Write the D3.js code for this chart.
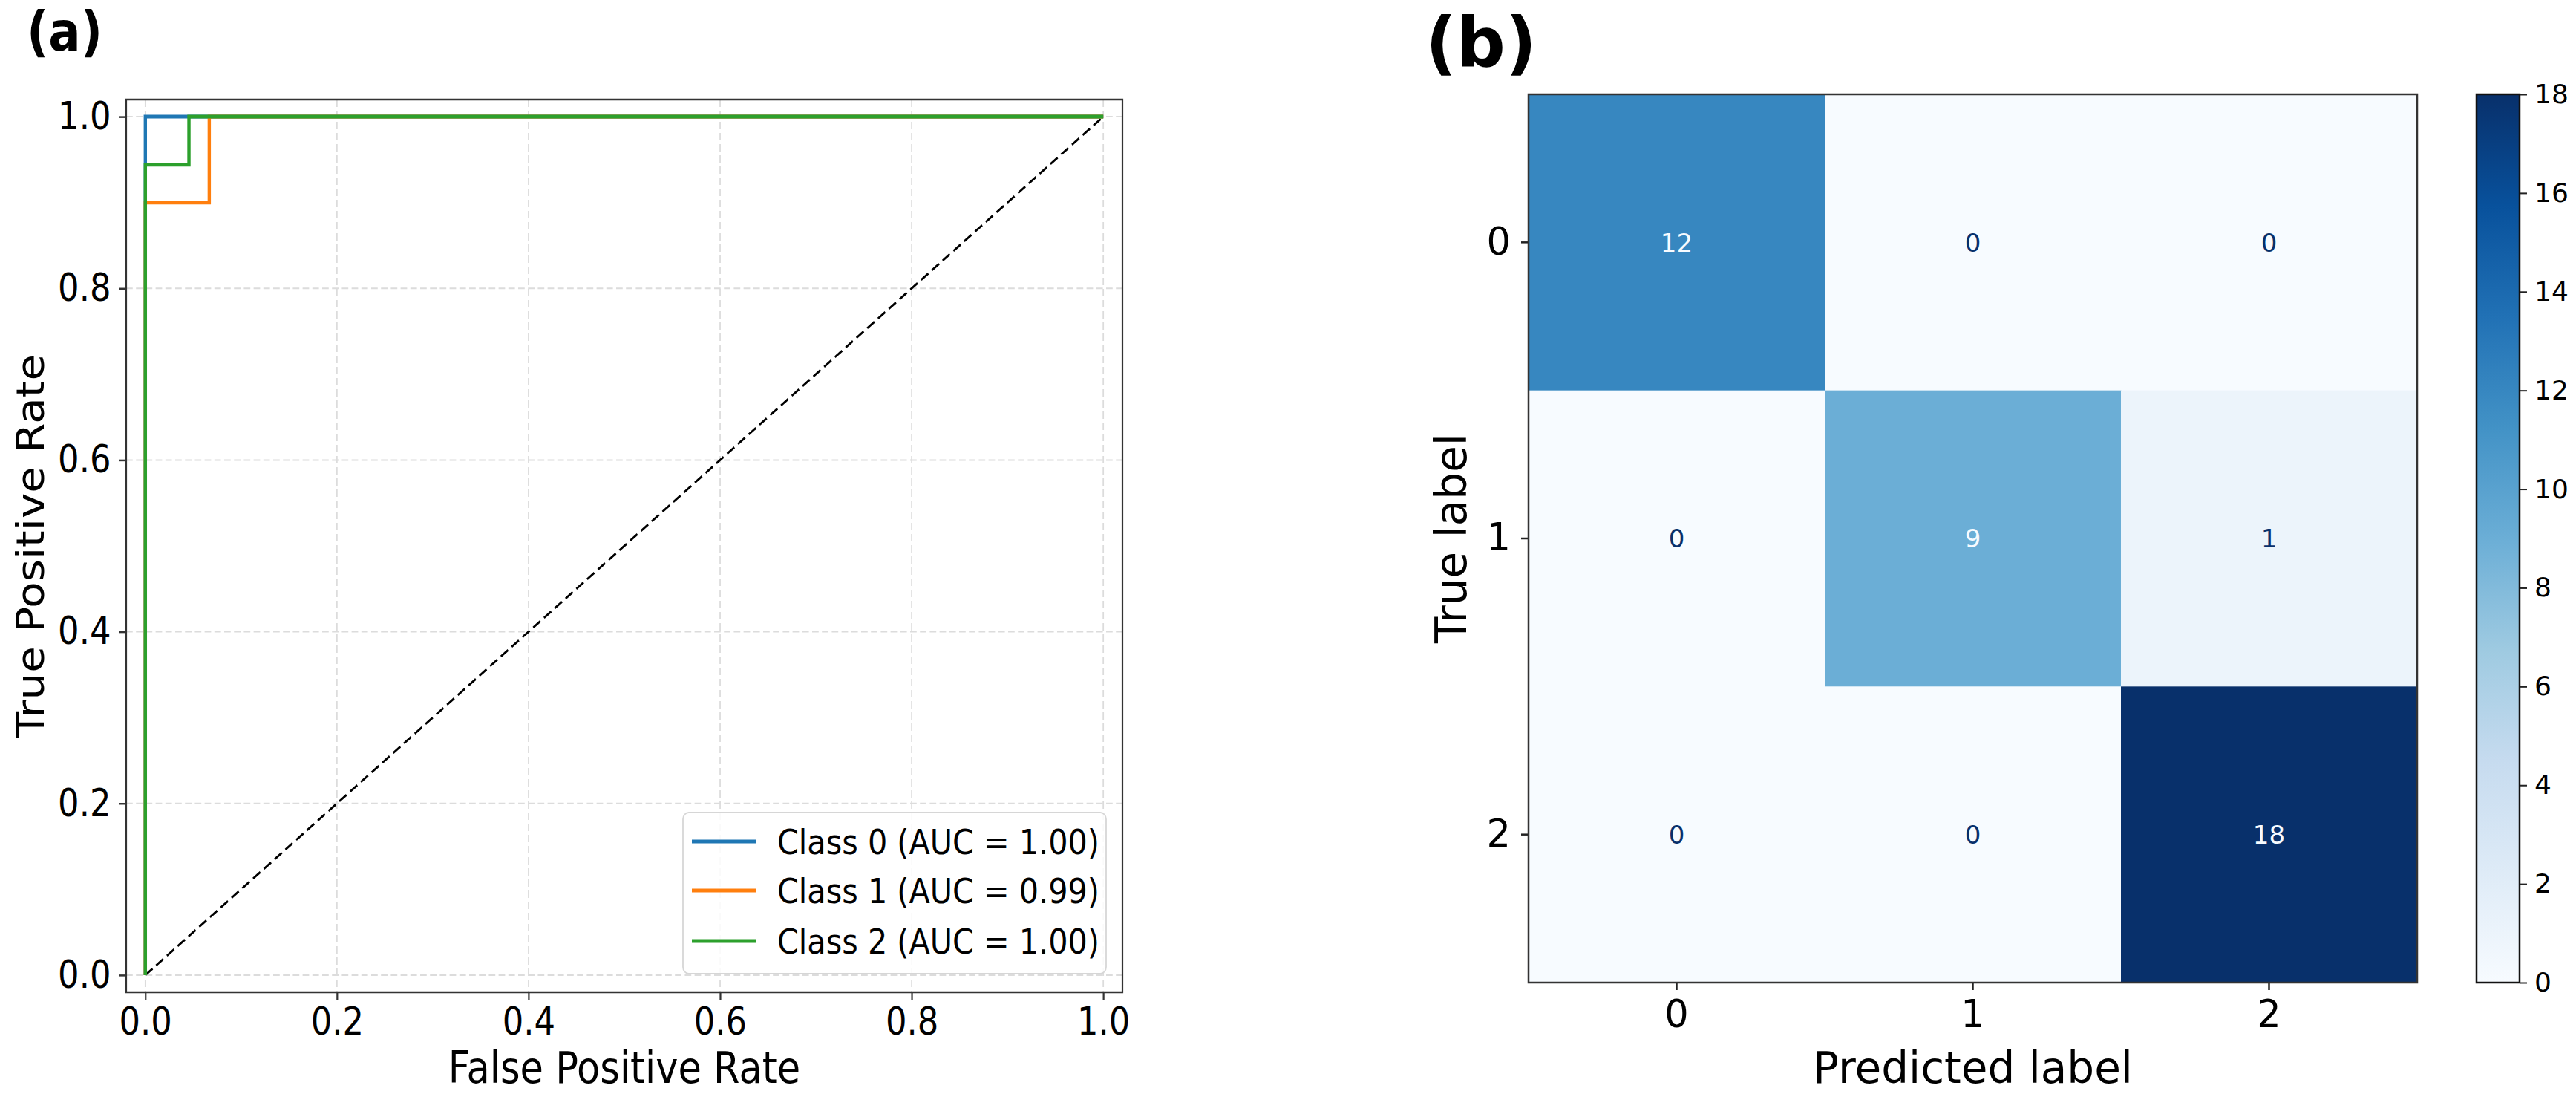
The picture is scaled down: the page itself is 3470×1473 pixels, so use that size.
<!DOCTYPE html>
<html lang="en">
<head>
  <meta charset="utf-8">
  <script src="https://d3js.org/d3.v7.min.js"></script>
  <style>
    body { margin: 0; background: #fff; }
    text { font-family: "DejaVu Sans", sans-serif; fill: #000; }
  </style>
</head>
<body>
<script>

// ---- data ----
var classNames = ["Class 0", "Class 1", "Class 2"];
var aucValues = [1.00, 0.99, 1.00];
var rocFpr = [
  [0, 0, 1],
  [0, 0, 0.0667, 0.0667, 1],
  [0, 0, 0.0455, 0.0455, 1]
];
var rocTpr = [
  [0, 1, 1],
  [0, 0.9, 0.9, 1, 1],
  [0, 0.944, 0.944, 1, 1]
];
var rocTicks = [0, 0.2, 0.4, 0.6, 0.8, 1.0];

var cmLabels = ["0", "1", "2"];
var cmValues = [
  [12, 0, 0],
  [0, 9, 1],
  [0, 0, 18]
];
var cbarTicks = [0, 2, 4, 6, 8, 10, 12, 14, 16, 18];

var width = 3470,
    height = 1473;

var lineColors = ["#1f77b4", "#ff7f0e", "#2ca02c"];
var bluesStops = ["#f7fbff","#deebf7","#c6dbef","#9ecae1","#6baed6","#4292c6","#2171b5","#08519c","#08306b"];

var svg = d3.select("body").append("svg")
    .attr("width", width)
    .attr("height", height);

svg.append("rect")
    .attr("width", width)
    .attr("height", height)
    .attr("fill", "#fff");

// =============== (a) ROC panel ===============
// the left panel is squeezed horizontally in the picture
var sx = 0.88;
var gA = svg.append("g").attr("transform", "scale(" + sx + ",1)");

var ax = { left: 170 / sx, right: 1512 / sx, top: 134, bottom: 1336 };

var x = d3.scaleLinear().domain([-0.02, 1.02]).range([ax.left, ax.right]);
var y = d3.scaleLinear().domain([-0.02, 1.02]).range([ax.bottom, ax.top]);

gA.append("text")
    .attr("x", 36 / sx)
    .attr("y", 68)
    .style("font-size", "73px")
    .style("font-weight", "bold")
    .text("(a)");

// grid
gA.append("g").selectAll("line.gx")
    .data(rocTicks)
  .enter().append("line")
    .attr("x1", function(d) { return x(d); })
    .attr("x2", function(d) { return x(d); })
    .attr("y1", ax.top)
    .attr("y2", ax.bottom)
    .attr("stroke", "#dcdcdc")
    .attr("stroke-width", 2)
    .attr("stroke-dasharray", "10,5");

gA.append("g").selectAll("line.gy")
    .data(rocTicks)
  .enter().append("line")
    .attr("x1", ax.left)
    .attr("x2", ax.right)
    .attr("y1", function(d) { return y(d); })
    .attr("y2", function(d) { return y(d); })
    .attr("stroke", "#dcdcdc")
    .attr("stroke-width", 2)
    .attr("stroke-dasharray", "10,5");

// chance line
var line = d3.line()
    .x(function(d) { return x(d[0]); })
    .y(function(d) { return y(d[1]); });

gA.append("path")
    .attr("d", line([[0, 0], [1, 1]]))
    .attr("fill", "none")
    .attr("stroke", "#000")
    .attr("stroke-width", 3)
    .attr("stroke-dasharray", "14,7");

// roc curves
classNames.forEach(function(name, i) {
  var pts = rocFpr[i].map(function(f, j) { return [f, rocTpr[i][j]]; });
  gA.append("path")
      .attr("d", line(pts))
      .attr("fill", "none")
      .attr("stroke", lineColors[i])
      .attr("stroke-width", 5)
      .attr("stroke-linejoin", "miter");
});

// axes
var xAxis = d3.axisBottom(x).tickValues(rocTicks).tickFormat(d3.format(".1f"))
    .tickSize(10).tickPadding(11);
var yAxis = d3.axisLeft(y).tickValues(rocTicks).tickFormat(d3.format(".1f"))
    .tickSize(10 / sx).tickPadding(12);

var gx = gA.append("g")
    .attr("transform", "translate(0," + ax.bottom + ")")
    .call(xAxis);
var gy = gA.append("g")
    .attr("transform", "translate(" + ax.left + ",0)")
    .call(yAxis);

[gx, gy].forEach(function(g) {
  g.select(".domain").remove();
  g.selectAll(".tick line").attr("stroke", "#333").attr("stroke-width", 2.5);
  g.selectAll(".tick text").style("font-size", "51px").attr("fill", "#000");
});

gA.append("rect")
    .attr("x", ax.left)
    .attr("y", ax.top)
    .attr("width", ax.right - ax.left)
    .attr("height", ax.bottom - ax.top)
    .attr("fill", "none")
    .attr("stroke", "#333")
    .attr("stroke-width", 2.5);

gA.append("text")
    .attr("x", (ax.left + ax.right) / 2)
    .attr("y", 1458)
    .attr("text-anchor", "middle")
    .style("font-size", "58px")
    .text("False Positive Rate");

gA.append("text")
    .attr("transform", "translate(" + (59 / sx) + "," + ((ax.top + ax.bottom) / 2) + ")rotate(-90)")
    .attr("text-anchor", "middle")
    .style("font-size", "58px")
    .text("True Positive Rate");

// legend
var leg = gA.append("g");
leg.append("rect")
    .attr("x", 920 / sx)
    .attr("y", 1094)
    .attr("width", (1490 - 920) / sx)
    .attr("height", 1311 - 1094)
    .attr("rx", 9)
    .attr("fill", "#fff")
    .attr("fill-opacity", 0.85)
    .attr("stroke", "#d6d6d6")
    .attr("stroke-width", 2);

var legRows = [1133, 1199, 1267];
classNames.forEach(function(name, i) {
  leg.append("line")
      .attr("x1", 932 / sx)
      .attr("x2", 1019 / sx)
      .attr("y1", legRows[i])
      .attr("y2", legRows[i])
      .attr("stroke", lineColors[i])
      .attr("stroke-width", 5);
  leg.append("text")
      .attr("x", 1047 / sx)
      .attr("y", legRows[i] + 17)
      .style("font-size", "47px")
      .text(name + " (AUC = " + aucValues[i].toFixed(2) + ")");
});

// =============== (b) confusion matrix ===============
var gB = svg.append("g");
var cm = { left: 2059, right: 3256, top: 127, bottom: 1323 };

var color = d3.scaleLinear()
    .domain(bluesStops.map(function(c, i) { return i * 18 / (bluesStops.length - 1); }))
    .range(bluesStops);

var cx = d3.scaleBand().domain(cmLabels).range([cm.left, cm.right]);
var cy = d3.scaleBand().domain(cmLabels).range([cm.top, cm.bottom]);

gB.append("text")
    .attr("x", 1920)
    .attr("y", 90)
    .style("font-size", "92px")
    .style("font-weight", "bold")
    .text("(b)");

var cells = [];
cmValues.forEach(function(row, r) {
  row.forEach(function(v, c) {
    cells.push({ r: cmLabels[r], c: cmLabels[c], v: v });
  });
});

gB.selectAll("rect.cell")
    .data(cells)
  .enter().append("rect")
    .attr("x", function(d) { return cx(d.c); })
    .attr("y", function(d) { return cy(d.r); })
    .attr("width", cx.bandwidth() + 0.5)
    .attr("height", cy.bandwidth() + 0.5)
    .attr("fill", function(d) { return color(d.v); });

gB.selectAll("text.val")
    .data(cells)
  .enter().append("text")
    .attr("x", function(d) { return cx(d.c) + cx.bandwidth() / 2; })
    .attr("y", function(d) { return cy(d.r) + cy.bandwidth() / 2; })
    .attr("dy", "0.36em")
    .attr("text-anchor", "middle")
    .style("font-size", "34px")
    .style("fill", function(d) { return d.v < 9 ? "#08306b" : "#f7fbff"; })
    .text(function(d) { return d.v; });

var cxAxis = d3.axisBottom(cx).tickSize(10).tickPadding(14);
var cyAxis = d3.axisLeft(cy).tickSize(10).tickPadding(14);

var gcx = gB.append("g").attr("transform", "translate(0," + cm.bottom + ")").call(cxAxis);
var gcy = gB.append("g").attr("transform", "translate(" + cm.left + ",0)").call(cyAxis);
[gcx, gcy].forEach(function(g) {
  g.select(".domain").remove();
  g.selectAll(".tick line").attr("stroke", "#222").attr("stroke-width", 2.5);
  g.selectAll(".tick text").style("font-size", "51px").attr("fill", "#000");
});

gB.append("rect")
    .attr("x", cm.left)
    .attr("y", cm.top)
    .attr("width", cm.right - cm.left)
    .attr("height", cm.bottom - cm.top)
    .attr("fill", "none")
    .attr("stroke", "#333")
    .attr("stroke-width", 2.5);

gB.append("text")
    .attr("x", (cm.left + cm.right) / 2)
    .attr("y", 1458)
    .attr("text-anchor", "middle")
    .style("font-size", "58px")
    .text("Predicted label");

gB.append("text")
    .attr("transform", "translate(1975," + ((cm.top + cm.bottom) / 2) + ")rotate(-90)")
    .attr("text-anchor", "middle")
    .style("font-size", "58px")
    .text("True label");

// colorbar
var cb = { left: 3336, w: 58 };
var cbScale = d3.scaleLinear().domain([0, 18]).range([cm.bottom, cm.top]);

var grad = svg.append("defs").append("linearGradient")
    .attr("id", "blues")
    .attr("x1", "0").attr("y1", "1")
    .attr("x2", "0").attr("y2", "0");
grad.selectAll("stop")
    .data(bluesStops)
  .enter().append("stop")
    .attr("offset", function(d, i) { return i / (bluesStops.length - 1); })
    .attr("stop-color", function(d) { return d; });

gB.append("rect")
    .attr("x", cb.left)
    .attr("y", cm.top)
    .attr("width", cb.w)
    .attr("height", cm.bottom - cm.top)
    .attr("fill", "url(#blues)")
    .attr("stroke", "#111")
    .attr("stroke-width", 2.5);

var cbAxis = d3.axisRight(cbScale).tickValues(cbarTicks).tickSize(10).tickPadding(10);
var gcb = gB.append("g")
    .attr("transform", "translate(" + (cb.left + cb.w) + ",0)")
    .call(cbAxis);
gcb.select(".domain").remove();
gcb.selectAll(".tick line").attr("stroke", "#222").attr("stroke-width", 2);
gcb.selectAll(".tick text").style("font-size", "36px").attr("fill", "#000");

</script>
</body>
</html>
